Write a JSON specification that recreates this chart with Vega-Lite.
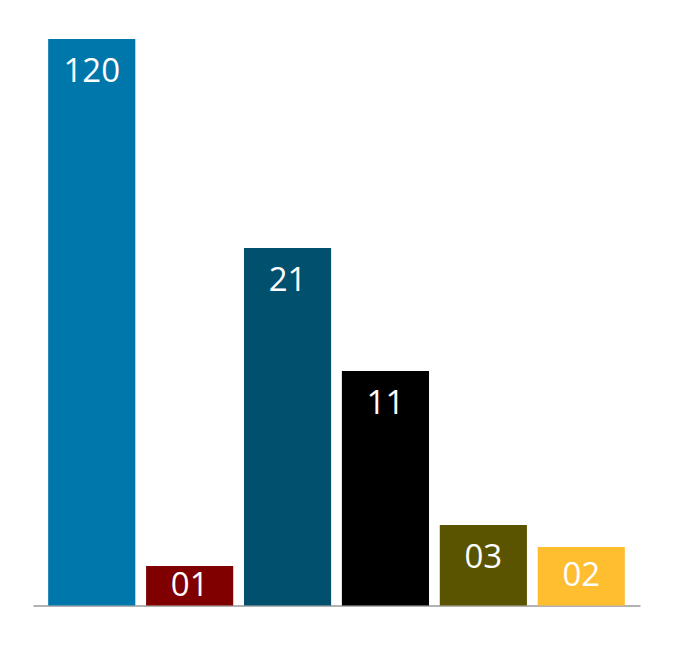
{
  "$schema": "https://vega.github.io/schema/vega-lite/v6.json",
  "width": 607,
  "height": 566.5,
  "autosize": "none",
  "padding": {"left": 33, "top": 39, "right": 40, "bottom": 42.5},
  "background": "white",
  "config": {"view": {"stroke": null}},
  "data": {
    "values": [
      {"cat": "a", "h": 566.5, "label": "120", "color": "#0077AA"},
      {"cat": "b", "h": 39.5, "label": "01", "color": "#800000"},
      {"cat": "c", "h": 357.5, "label": "21", "color": "#00506E"},
      {"cat": "d", "h": 234.5, "label": "11", "color": "#000000"},
      {"cat": "e", "h": 80.5, "label": "03", "color": "#5A5400"},
      {"cat": "f", "h": 58.5, "label": "02", "color": "#FFBE30"}
    ]
  },
  "transform": [
    {"calculate": "max(datum.h - 33, datum.h / 2)", "as": "labelPos"}
  ],
  "encoding": {
    "x": {
      "field": "cat",
      "type": "nominal",
      "sort": null,
      "scale": {"paddingInner": 0.11, "paddingOuter": 0.155},
      "axis": {
        "labels": false,
        "ticks": false,
        "title": null,
        "domainColor": "#999999",
        "domainWidth": 1.5
      }
    }
  },
  "layer": [
    {
      "mark": {"type": "bar"},
      "encoding": {
        "y": {
          "field": "h",
          "type": "quantitative",
          "scale": {"domain": [0, 566.5], "nice": false},
          "axis": null
        },
        "color": {"field": "color", "type": "nominal", "scale": null}
      }
    },
    {
      "mark": {
        "type": "text",
        "color": "white",
        "font": "Open Sans",
        "fontSize": 33,
        "baseline": "middle",
        "align": "center"
      },
      "encoding": {
        "y": {"field": "labelPos", "type": "quantitative", "scale": {"domain": [0, 566.5], "nice": false}},
        "text": {"field": "label"}
      }
    }
  ]
}
